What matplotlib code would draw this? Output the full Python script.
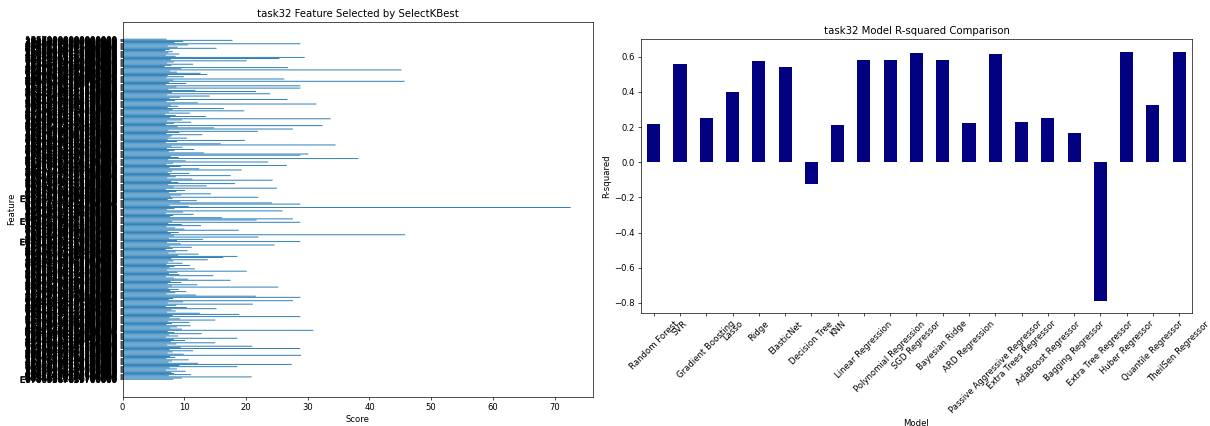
import numpy as np
import pandas as pd
import matplotlib
matplotlib.use("Agg")
import matplotlib.pyplot as plt
import matplotlib.patheffects as pe

# SelectKBest scores, listed top to bottom as shown
kbest_scores = [
    7.1, 17.8, 9.8, 8.4, 28.8, 10.6, 7.3, 8.9, 15.2, 7.6, 6.9, 8.1, 7.4, 9.2, 7.0, 8.6, 29.5, 25.4, 7.8, 20.1,
    8.3, 7.2, 11.4, 7.9, 6.8, 26.8, 9.5, 45.2, 7.7, 8.8, 12.6, 13.7, 7.3, 9.9, 7.1, 26.2, 8.2, 45.7, 7.5, 10.3,
    7.0, 28.8, 8.7, 28.8, 7.4, 11.8, 21.6, 8.0, 23.9, 7.2, 14.1, 9.3, 7.6, 26.7, 8.5, 7.1, 12.2, 31.4, 7.8, 9.0,
    7.3, 16.4, 8.1, 19.7, 7.5, 10.9, 6.9, 8.6, 13.5, 7.7, 33.7, 9.6, 7.2, 11.1, 8.3, 7.0, 32.4, 8.9, 14.8, 27.6,
    7.4, 21.9, 9.2, 7.1, 12.9, 8.0, 7.6, 10.4, 7.3, 19.8, 8.8, 7.0, 15.9, 34.5, 7.9, 9.7, 7.2, 11.6, 8.4, 7.5,
    13.2, 30.1, 28.8, 7.8, 9.1, 38.2, 7.4, 10.2, 23.6, 8.2, 7.1, 26.6, 9.4, 7.6, 12.4, 19.3, 8.0, 7.3, 10.8, 7.7,
    17.5, 8.6, 7.2, 11.3, 24.3, 7.9, 9.0, 18.2, 7.4, 13.6, 8.3, 25.0, 7.0, 10.1, 8.7, 7.5, 14.3, 9.5, 7.8, 22.0,
    8.1, 7.3, 12.0, 9.3, 24.2, 28.8, 7.6, 10.7, 72.6, 8.4, 7.2, 25.9, 9.8, 7.0, 11.5, 8.2, 7.7, 16.1, 27.6, 21.7,
    8.0, 28.8, 7.4, 9.6, 12.7, 7.1, 8.5, 10.0, 18.8, 7.3, 9.1, 7.8, 45.8, 8.3, 22.0, 7.5, 13.0, 8.8, 28.8, 7.2,
    9.4, 24.6, 7.6, 11.2, 8.1, 7.0, 10.5, 8.6, 7.4, 12.3, 9.0, 18.6, 16.3, 7.9, 13.8, 8.2, 7.3, 9.7, 7.1, 10.9,
    8.4, 7.6, 11.7, 7.2, 20.1, 8.9, 7.5, 9.2, 14.7, 7.0, 8.3, 10.6, 17.5, 7.8, 9.5, 7.3, 12.1, 8.0, 25.2, 7.4,
    9.1, 7.7, 10.3, 8.5, 7.1, 11.9, 21.6, 28.8, 8.2, 7.5, 27.6, 9.8, 7.3, 21.1, 8.7, 7.0, 10.4, 15.2, 7.9, 8.6,
    7.2, 12.5, 18.9, 8.1, 28.8, 7.6, 9.3, 15.0, 7.4, 10.8, 8.0, 7.1, 11.0, 8.8, 7.7, 9.6, 30.9, 7.3, 8.4, 12.8,
    7.5, 9.0, 7.0, 18.6, 8.3, 10.1, 7.8, 15.0, 8.7, 7.2, 21.0, 9.4, 28.8, 7.6, 11.4, 8.1, 7.3, 9.9, 28.9, 7.7,
    8.5, 7.1, 10.7, 8.0, 7.4, 12.2, 27.4, 9.2, 18.6, 7.6, 8.8, 7.0, 10.2, 7.9, 8.3, 11.1, 7.5, 20.9, 9.6, 8.2,
]

# feature ids: 17-digit codes, a few of them with an "E" prefix
long_ids = {140, 160, 178, 299}
feature_names = [("E" if i in long_ids else "") + f"{(i * 2654435761 + 97531) % 10**17:017d}"[::-1]
                 for i in range(len(kbest_scores))]

models = ["Random Forest", "SVR", "Gradient Boosting", "Lasso", "Ridge", "ElasticNet",
          "Decision Tree", "KNN", "Linear Regression", "Polynomial Regression",
          "SGD Regressor", "Bayesian Ridge", "ARD Regression",
          "Passive Aggressive Regressor", "Extra Trees Regressor", "AdaBoost Regressor",
          "Bagging Regressor", "Extra Tree Regressor", "Huber Regressor",
          "Quantile Regressor", "TheilSen Regressor"]
r2_scores = [0.220, 0.560, 0.252, 0.399, 0.577, 0.543, -0.123, 0.209, 0.583, 0.581,
             0.623, 0.583, 0.224, 0.613, 0.228, 0.252, 0.169, -0.788, 0.628, 0.323, 0.628]

fig = plt.figure(figsize=(19.852, 6.984), dpi=61)

# feature scores
ax1 = fig.add_axes([0.1013, 0.0688, 0.3884, 0.8802])
ypos = np.arange(len(kbest_scores))
ax1.barh(ypos, kbest_scores, snap=False)
ax1.set_yticks(ypos, labels=feature_names)
for lbl in ax1.get_yticklabels():
    lbl.set_path_effects([pe.withStroke(linewidth=0.6, foreground="black")])
ax1.invert_yaxis()
ax1.set_title("task32 Feature Selected by SelectKBest")
ax1.set_xlabel("Score")
ax1.set_ylabel("Feature")

# model comparison
ax2 = fig.add_axes([0.529, 0.2645, 0.4556, 0.6432])
pd.Series(r2_scores, index=models).plot(kind="bar", color="navy", ax=ax2, rot=45)
ax2.set_title("task32 Model R-squared Comparison")
ax2.set_xlabel("Model")
ax2.set_ylabel("R-squared")

fig.savefig("out.png", dpi=61)
